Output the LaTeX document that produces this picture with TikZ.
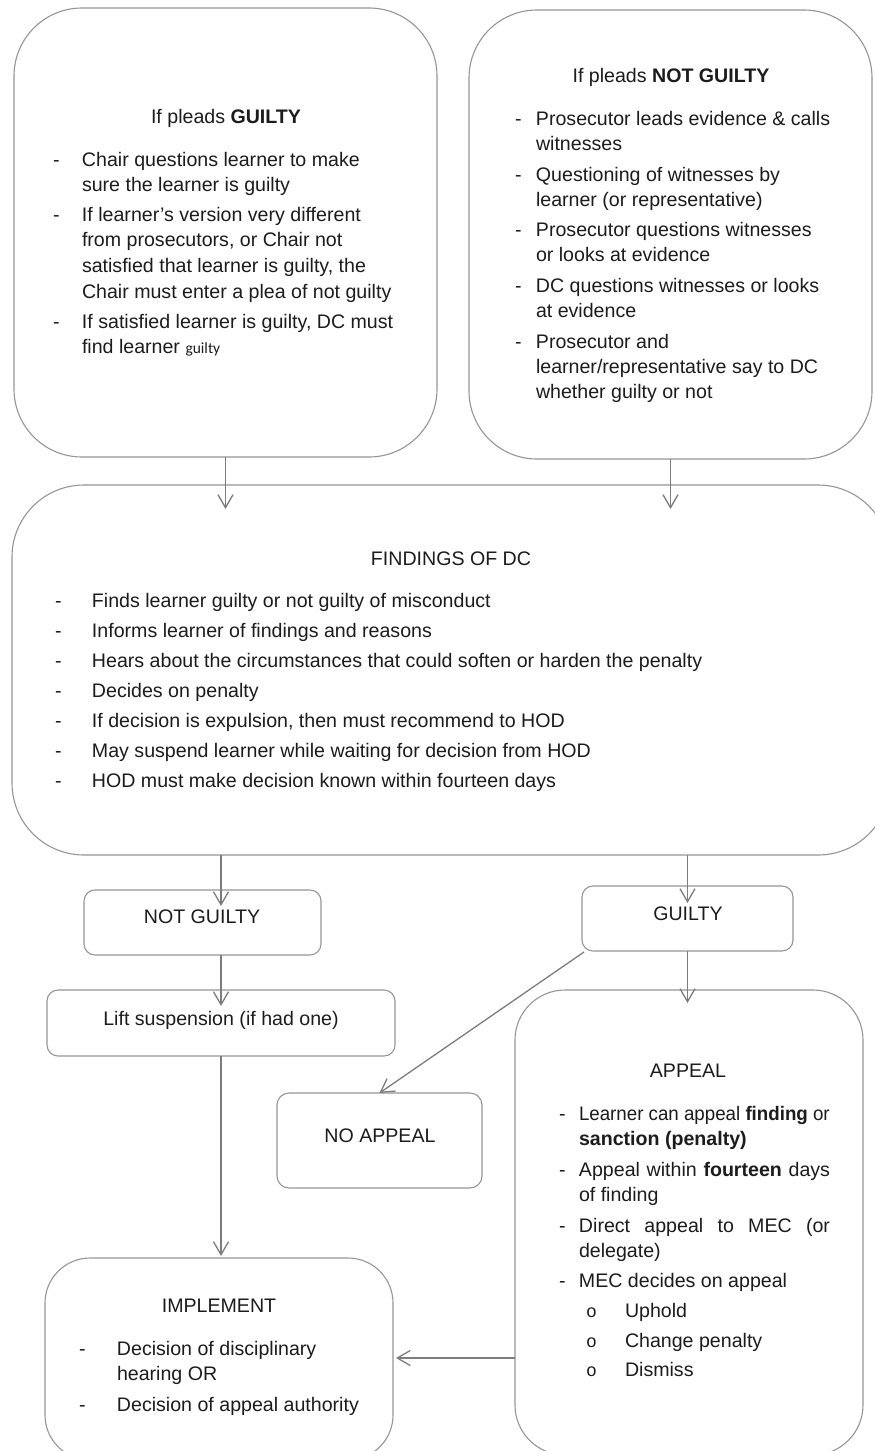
\documentclass[tikz,border=0pt]{standalone}
\usepackage{fontspec}
\usepackage{graphicx}
\setmainfont{Liberation Sans}
\newfontfamily\calibrifont{Carlito}
\newfontfamily\bulletfont{Liberation Mono}
\usetikzlibrary{arrows.meta,calc}
\definecolor{edgegray}{RGB}{150,150,150}
\definecolor{linegray}{RGB}{125,125,125}
\definecolor{inkgray}{RGB}{28,28,28}
\tikzset{
  box/.style={draw=edgegray, line width=1.1pt, inner sep=0pt, outer sep=0pt},
  conn/.style={draw=linegray, line width=1.3pt,
    -{Straight Barb[length=13pt,width=15pt,line width=1.3pt]}},
  txt/.style={inner sep=0pt, outer sep=0pt, text=inkgray,
    font=\fontsize{19.6pt}{25.7pt}\selectfont},
  tight/.style={font=\fontsize{19.6pt}{25.2pt}\selectfont},
}
% a dashed list entry: dash column width, text column width, lines
\newcommand\dashitem[3]{\makebox[#1][l]{-}\parbox[t]{#2}{\raggedright #3}}
% a sub entry with a small ring as its mark
\newcommand\ringitem[2]{\makebox[#1][l]{\bulletfont\fontsize{18pt}{18pt}\selectfont o}#2}

\begin{document}
\begin{tikzpicture}[x=1pt,y=-1pt]
\useasboundingbox (0,0) rectangle (875,1451);
\fill[white] (0,0) rectangle (875,1451);
\clip (0,0) rectangle (875,1451);

% ---------- boxes ----------
\node[box, rounded corners=68pt, minimum width=423pt, minimum height=449pt] (pg) at (225.5,232.5) {};
\node[box, rounded corners=68pt, minimum width=403pt, minimum height=449pt] (png) at (670.5,234.5) {};
\node[box, rounded corners=72pt, minimum width=878pt, minimum height=370pt] (fd) at (451,670) {};
\node[box, rounded corners=11pt, minimum width=237pt, minimum height=65pt] (ng) at (202.5,922.5) {};
\node[box, rounded corners=11pt, minimum width=211pt, minimum height=65pt] (gy) at (687.5,918.5) {};
\node[box, rounded corners=11pt, minimum width=348pt, minimum height=66pt] (ls) at (221,1023) {};
\node[box, rounded corners=12pt, minimum width=205pt, minimum height=95pt] (na) at (379.5,1140.5) {};
\node[box, rounded corners=50pt, minimum width=348pt, minimum height=465pt] (ap) at (689,1222.5) {};
\node[box, rounded corners=45pt, minimum width=348pt, minimum height=202pt] (im) at (219,1359) {};

% ---------- connectors ----------
\coordinate (appealrow) at (0,1358);
\draw[conn] (pg.south) -- ($(pg.south |- fd.north)+(0,24)$);
\draw[conn] (png.south) -- ($(png.south |- fd.north)+(0,24)$);
\draw[conn] (fd.south -| ls.north) -- ($(ng.north -| ls.north)+(0,16)$);
\draw[conn] (fd.south -| gy.north) -- ($(gy.north)+(0,17)$);
\draw[conn] (ng.south -| ls.north) -- ($(ls.north)+(0,16)$);
\draw[conn] (gy.south) -- ($(gy.south |- ap.north)+(0,13)$);
\draw[conn] ($(gy.south west)+(2,1)$) -- (na.north);
\draw[conn] (ls.south) -- ($(im.north -| ls.south)+(0,-2)$);
\draw[conn] (ap.west |- appealrow) -- ($(im.east |- appealrow)+(3,0)$);

% ---------- pleads guilty ----------
\node[txt, anchor=base] (pgT) at (226,123) {If pleads \textbf{GUILTY}};
\node[txt, anchor=base west] (pg1) at (53,166) {\dashitem{29pt}{340pt}{Chair questions learner to make\\sure the learner is guilty}};
\node[txt, anchor=base west] (pg2) at (53,221) {\dashitem{29pt}{340pt}{If learner’s version very different\\from prosecutors, or Chair not\\satisfied that learner is guilty, the\\Chair must enter a plea of not guilty}};
\node[txt, anchor=base west] (pg3) at (53,328) {\dashitem{29pt}{340pt}{If satisfied learner is guilty, DC must\\find learner {\calibrifont\fontsize{15.5pt}{18pt}\selectfont guilty}}};

% ---------- pleads not guilty ----------
\node[txt, anchor=base] (pngT) at (671,82) {If pleads \textbf{NOT GUILTY}};
\node[txt, tight, anchor=base west] (png1) at (515,125) {\dashitem{21pt}{330pt}{Prosecutor leads evidence \& calls\\witnesses}};
\node[txt, tight, anchor=base west] (png2) at (515,181) {\dashitem{21pt}{330pt}{Questioning of witnesses by\\learner (or representative)}};
\node[txt, tight, anchor=base west] (png3) at (515,236) {\dashitem{21pt}{330pt}{Prosecutor questions witnesses\\or looks at evidence}};
\node[txt, tight, anchor=base west] (png4) at (515,292) {\dashitem{21pt}{330pt}{DC questions witnesses or looks\\at evidence}};
\node[txt, tight, anchor=base west] (png5) at (515,348) {\dashitem{21pt}{330pt}{Prosecutor and\\learner/representative say to DC\\whether guilty or not}};

% ---------- findings of the DC ----------
\node[txt, anchor=base] (fdT) at (451,565) {FINDINGS OF DC};
\foreach \t [count=\i from 0] in {
  Finds learner guilty or not guilty of misconduct,
  Informs learner of findings and reasons,
  Hears about the circumstances that could soften or harden the penalty,
  Decides on penalty,
  {If decision is expulsion, then must recommend to HOD},
  May suspend learner while waiting for decision from HOD,
  HOD must make decision known within fourteen days}
  \node[txt, anchor=base west] (fd\i) at (55,607+30*\i) {\makebox[37pt][l]{-}\t};

% ---------- outcomes ----------
\node[txt, anchor=base] (ngT) at (202,923) {NOT GUILTY};
\node[txt, anchor=base] (gyT) at (688,920) {GUILTY};
\node[txt, anchor=base] (lsT) at (221,1025) {Lift suspension (if had one)};
\node[txt, anchor=base] (naT) at (380,1142) {NO APPEAL};

% ---------- appeal ----------
\node[txt, anchor=base] (apT) at (688,1077) {APPEAL};
\node[txt, anchor=base west] (ap1) at (559,1120) {\dashitem{20pt}{280pt}{\scalebox{0.955}[1]{Learner can appeal \textbf{finding} or}\\\textbf{sanction (penalty)}}};
\node[txt, anchor=base west] (ap2) at (559,1176) {\dashitem{20pt}{280pt}{\makebox[251pt][s]{Appeal within \textbf{fourteen} days}\\of finding}};
\node[txt, anchor=base west] (ap3) at (559,1232) {\dashitem{20pt}{280pt}{\makebox[251pt][s]{Direct appeal to MEC (or}\\delegate)}};
\node[txt, anchor=base west] (ap4) at (559,1287) {\dashitem{20pt}{280pt}{MEC decides on appeal}};
\node[txt, anchor=base west] (ap5) at (586,1317) {\ringitem{39pt}{Uphold}};
\node[txt, anchor=base west] (ap6) at (586,1347) {\ringitem{39pt}{Change penalty}};
\node[txt, anchor=base west] (ap7) at (586,1376) {\ringitem{39pt}{Dismiss}};

% ---------- implement ----------
\node[txt, anchor=base] (imT) at (219,1312) {IMPLEMENT};
\node[txt, anchor=base west] (im1) at (79,1355) {\dashitem{38pt}{300pt}{Decision of disciplinary\\hearing OR}};
\node[txt, anchor=base west] (im2) at (79,1411) {\dashitem{38pt}{300pt}{Decision of appeal authority}};
\end{tikzpicture}
\end{document}
